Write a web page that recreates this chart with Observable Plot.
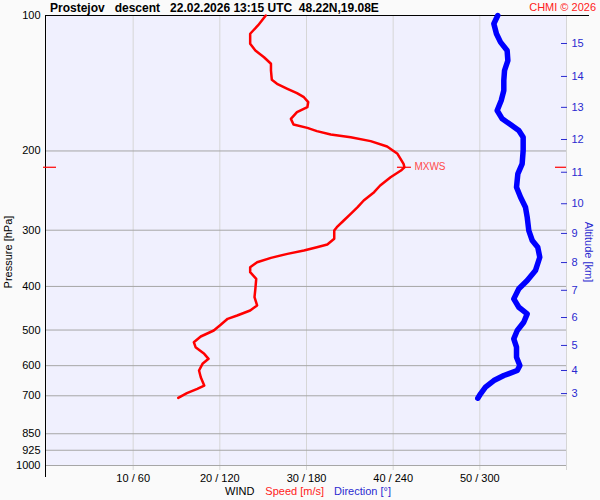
<!DOCTYPE html>
<html><head><meta charset="utf-8">
<script src="https://cdn.jsdelivr.net/npm/d3@7"></script>
<script src="https://cdn.jsdelivr.net/npm/@observablehq/plot@0.6"></script>
<style>
html,body{margin:0;padding:0;background:#fafafa;}
#chart svg{display:block;}
</style></head><body><div id="chart"></div>
<script>
// Wind speed profile (m/s) vs pressure (hPa)
const speedP = [100,105.2,109.8,115.6,119.6,123.8,128,132.5,139,141.8,145.5,148.8,151.9,155.8,159.9,164,169.7,174.7,177.7,180.7,183.8,186.4,190.2,195.5,202.9,213.6,217.4,221.1,228.8,238.7,247,257.7,266.7,275.9,285.5,295.4,300.5,313.5,322.8,327.3,332.9,338.6,345.6,353.4,362.6,371.9,384.7,404.9,422.7,441,452.4,464.2,472.1,486.8,501.2,516.8,532.1,545.9,564.7,579.3,594.3,615,636.5,664.1,675.5,690.8,707.4];
const speedV = [25.3,24.4,23.5,23.5,24.1,25.1,25.9,25.9,26.0,26.6,27.8,28.9,29.7,30.2,30.1,28.9,28.2,28.5,30.1,31.2,32.8,35.1,37.4,39.3,40.5,41.2,41.3,40.9,39.7,38.5,37.8,36.6,35.9,35.1,34.3,33.5,33.2,33.2,32.4,31.2,29.7,27.8,25.9,24.3,23.5,23.5,24.2,24.1,24.0,24.3,23.5,22.0,20.9,20.1,19.3,17.8,17.0,17.2,18.2,18.7,18.0,17.6,17.8,18.2,17.4,16.2,15.2];
// Wind direction profile (deg) vs pressure (hPa)
const dirP = [100,104.3,109.8,114.6,119.6,125.9,132.5,139.5,146.8,154.5,162.6,169.7,174.7,180.1,186.4,199.5,213.6,224.9,240.8,253.4,266.7,280.7,300.5,316.2,327.3,344.5,368.8,388.1,404.9,426.3,444.9,460.2,480.4,501.2,523,545.9,574.5,599.5,615,631,647.4,669.9,693,708.7];
const dirV = [312.4,309.7,311.5,314.3,318.9,319.4,317.1,316.6,316.6,314.8,312.0,315.5,321.2,327.0,330.0,330.0,329.3,326.3,325.4,328.2,331.6,332.8,333.9,336.3,340.1,341.5,338.5,332.8,327.0,323.5,327.0,332.8,330.4,325.9,323.5,325.4,325.4,327.7,325.9,316.6,309.7,303.9,300.5,298.6];
// Axis ticks
const pressureTicks = [100,200,300,400,500,600,700,850,925,1000];
const windTicks = [10,20,30,40,50,60];
const windTickLabels = ["10 / 60","20 / 120","30 / 180","40 / 240","50 / 300",""];
const altKm = [3,4,5,6,7,8,9,10,11,12,13,14,15];
const altP = [692,615,541,469,408,354,305,262,223,188.6,160,136.6,115.4];
// Max wind
const mxwsP = 217.4;
const mxwsS = 41.3;

const speedData = speedP.map((p, i) => ({p, v: speedV[i]}));
const dirData = dirP.map((p, i) => ({p, v: dirV[i] / 6})); // 0..360 deg shares the 0..60 axis
const mx = [{p: mxwsP, s: mxwsS}];

const RED = "#ff0000", BLUE = "#0000ff", ABLUE = "#2a2ad0";
const FONT = "Liberation Sans, Arial, sans-serif";

const plot = Plot.plot({
  width: 600, height: 500,
  marginLeft: 46, marginRight: 34, marginTop: 15, marginBottom: 35,
  style: {background: "#fafafa", fontFamily: FONT, fontSize: "11px", color: "black"},
  x: {domain: [0, 60], axis: null},
  y: {type: "log", domain: [100, 1000], reverse: true, axis: null},
  marks: [
    Plot.frame({fill: "#f0f0fe", stroke: null}),
    Plot.ruleX(windTicks, {stroke: "#d6d6d6", insetBottom: -5}),
    Plot.ruleY(pressureTicks.slice(1), {stroke: "#a6a6a6"}),
    Plot.ruleX([0], {stroke: "black", dx: -1, insetBottom: -12}),
    Plot.ruleY([100], {stroke: "black", dx: -1, insetRight: -24}),
    Plot.axisY(pressureTicks, {anchor: "left", tickSize: 0, tickPadding: 6, tickFormat: d => String(d), label: null, fontSize: 11}),
    Plot.axisX(windTicks, {anchor: "bottom", tickSize: 0, tickPadding: 9, tickFormat: d => windTickLabels[windTicks.indexOf(d)], label: null, fontSize: 11}),
    Plot.axisY(altP, {anchor: "right", tickSize: 6, dx: -6, stroke: ABLUE, tickFormat: () => "", label: null}),
    Plot.axisY(altP, {anchor: "right", tickSize: 0, tickPadding: 5, fill: ABLUE, tickFormat: d => String(altKm[altP.indexOf(d)]), label: null, fontSize: 11}),
    Plot.line(dirData, {x: "v", y: "p", stroke: BLUE, strokeWidth: 5.5, strokeLinecap: "round", strokeLinejoin: "round"}),
    Plot.line(speedData, {x: "v", y: "p", stroke: RED, strokeWidth: 2.5, strokeLinejoin: "round"}),
    Plot.ruleY([mxwsP], {stroke: RED, strokeWidth: 1.2, insetLeft: -3, insetRight: 510}),
    Plot.ruleY([mxwsP], {stroke: RED, strokeWidth: 1.2, insetLeft: 509, insetRight: 0}),
    Plot.ruleY(mx, {y: "p", x1: "s", x2: "s", stroke: RED, strokeWidth: 1.2, insetLeft: -7, insetRight: -7}),
    Plot.text(mx, {x: "s", y: "p", text: () => "MXWS", dx: 10, textAnchor: "start", fill: "#ff4a4a", fontSize: 10})
  ]
});

const svg = d3.select(plot);
const addText = (x, y, txt, opts = {}) => {
  const t = svg.append("text").attr("x", x).attr("y", y)
    .attr("font-family", FONT).attr("font-size", opts.size || 11)
    .attr("fill", opts.fill || "black")
    .attr("text-anchor", opts.anchor || "start")
    .style("white-space", "pre")
    .text(txt);
  if (opts.bold) t.attr("font-weight", "bold");
  if (opts.transform) t.attr("transform", opts.transform);
  if (opts.baseline) t.attr("dominant-baseline", opts.baseline);
  return t;
};
addText(50, 12, "Prostejov   descent   22.02.2026 13:15 UTC  48.22N,19.08E", {size: 12, bold: true});
addText(596, 11, "CHMI \u00a9 2026", {fill: "#ff2020", anchor: "end"});
addText(0, 0, "Pressure [hPa]", {anchor: "middle", baseline: "central", transform: "translate(8,252) rotate(-90)"});
addText(0, 0, "Altitude [km]", {anchor: "middle", baseline: "central", fill: ABLUE, transform: "translate(589,252) rotate(90)"});
const leg = svg.append("text").attr("x", 225).attr("y", 495).attr("text-anchor", "start")
  .attr("font-family", FONT).attr("font-size", 11).style("white-space", "pre");
leg.append("tspan").attr("fill", "black").text("WIND");
leg.append("tspan").attr("fill", "#ff2020").attr("dx", 11).text("Speed [m/s]");
leg.append("tspan").attr("fill", ABLUE).attr("dx", 10).text("Direction [\u00b0]");

document.getElementById("chart").appendChild(plot);
</script>
</body></html>
